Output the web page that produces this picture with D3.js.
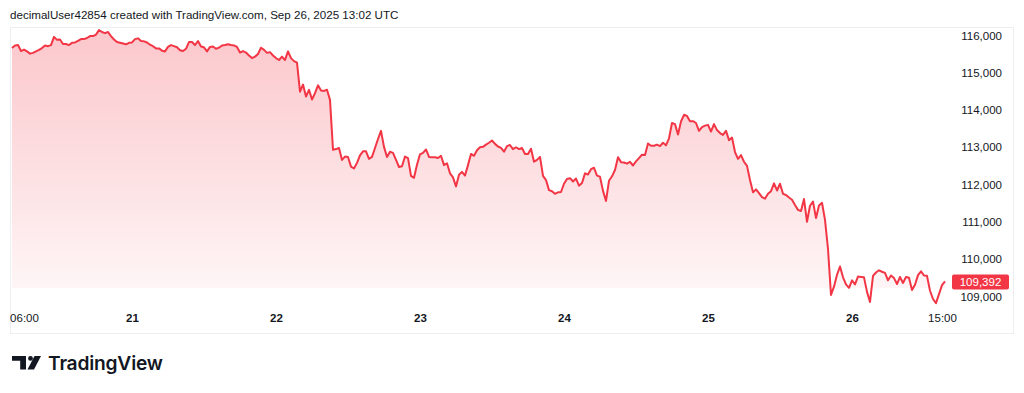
<!DOCTYPE html>
<html>
<head>
<meta charset="utf-8">
<script src="https://cdn.jsdelivr.net/npm/d3@7/dist/d3.min.js"></script>
<style>
  body { margin: 0; background: #fff; }
</style>
</head>
<body>
<div class="chart"></div>
<script>
// DATA
const titleText = "decimalUser42854 created with TradingView.com, Sep 26, 2025 13:02 UTC";
const startTime = Date.UTC(2025, 8, 20, 4, 0);   // first bar
const stepMinutes = 30;
const prices = [
  115650,115720,115730,115570,115610,115560,115500,115520,115560,115600,
  115650,115720,115700,115730,115950,115870,115880,115760,115760,115730,
  115790,115800,115840,115890,115890,115920,115970,115970,116010,116130,
  116080,116050,116080,115970,115880,115810,115790,115770,115750,115790,
  115800,115890,115910,115840,115830,115800,115740,115700,115640,115640,
  115580,115560,115680,115730,115700,115670,115590,115570,115630,115810,
  115810,115730,115840,115690,115670,115560,115680,115690,115630,115660,
  115720,115730,115750,115730,115720,115680,115530,115570,115530,115450,
  115380,115420,115490,115660,115600,115520,115540,115450,115380,115330,
  115420,115330,115560,115380,115300,115260,114480,114670,114350,114530,
  114270,114440,114650,114510,114500,114530,114260,112920,112940,112970,
  112650,112740,112730,112470,112420,112570,112770,112880,112880,112680,
  112730,112970,113210,113430,113000,112730,112870,112840,112650,112460,
  112480,112740,112700,112220,112170,112520,112800,112840,112930,112730,
  112720,112720,112700,112760,112510,112560,112290,112180,111940,112250,
  112330,112230,112510,112810,112760,112910,112990,113000,113060,113110,
  113170,113080,113010,112970,112870,113020,113050,112940,112990,112940,
  112970,112810,112810,112950,112600,112650,112730,112220,112110,111840,
  111810,111740,111780,111790,112010,112140,112160,112070,112150,111960,
  112030,112290,112260,112400,112440,112230,112200,111820,111550,112090,
  112210,112380,112720,112590,112580,112550,112600,112500,112610,112700,
  112790,112780,113090,113030,113030,113060,113020,113110,113040,113230,
  113640,113610,113330,113680,113860,113830,113690,113690,113640,113430,
  113530,113570,113590,113410,113610,113450,113370,113320,113430,113180,
  113250,112860,112680,112780,112600,112490,112110,111780,111860,111760,
  111650,111610,111740,111810,112020,111830,112010,111740,111710,111640,
  111580,111440,111310,111280,111600,110990,111420,111530,111090,111430,
  111500,111040,110260,109030,109250,109570,109790,109500,109310,109220,
  109420,109310,109520,109510,109500,109110,108840,109540,109630,109690,
  109650,109620,109420,109550,109480,109320,109510,109350,109510,109490,
  109160,109300,109560,109660,109550,109540,109140,108920,108810,109050,
  109290,109392
];
const yTickValues = [109000, 110000, 111000, 112000, 113000, 114000, 115000, 116000];
const xTickTimes = [
  Date.UTC(2025, 8, 20, 6), Date.UTC(2025, 8, 21), Date.UTC(2025, 8, 22),
  Date.UTC(2025, 8, 23), Date.UTC(2025, 8, 24), Date.UTC(2025, 8, 25),
  Date.UTC(2025, 8, 26), Date.UTC(2025, 8, 26, 15)
];
const xTickLabels = ["06:00", "21", "22", "23", "24", "25", "26", "15:00"];
const dayTick = [false, true, true, true, true, true, true, false];

// LAYOUT
const W = 1024, H = 393;
const red = "#F23645", ink = "#131722";
const font = "'Liberation Sans', Arial, sans-serif";

const data = prices.map((p, i) => ({ date: new Date(startTime + i * stepMinutes * 60000), price: p }));

const svg = d3.select(".chart").append("svg")
  .attr("width", W).attr("height", H)
  .style("font-family", font);

// frame
svg.append("rect")
  .attr("x", 10.5).attr("y", 27.5).attr("width", 1003).attr("height", 306)
  .attr("fill", "none").attr("stroke", "#eceef2");

svg.append("text")
  .attr("x", 10).attr("y", 19)
  .attr("font-size", 11.6).attr("fill", ink)
  .text(titleText);

const xScale = d3.scaleUtc()
  .domain([Date.UTC(2025, 8, 21), Date.UTC(2025, 8, 26)])
  .range([132, 852]);

const yScale = d3.scaleLinear()
  .domain([109000, 116000])
  .range([296, 35]);

const defs = svg.append("defs");
const grad = defs.append("linearGradient")
  .attr("id", "fillGrad")
  .attr("gradientUnits", "userSpaceOnUse")
  .attr("x1", 0).attr("y1", 29).attr("x2", 0).attr("y2", 288);
grad.append("stop").attr("offset", 0).attr("stop-color", red).attr("stop-opacity", 0.28);
grad.append("stop").attr("offset", 1).attr("stop-color", red).attr("stop-opacity", 0.05);

defs.append("clipPath").attr("id", "fillClip")
  .append("rect").attr("x", 0).attr("y", 0).attr("width", 948).attr("height", 288);

const area = d3.area()
  .x(d => xScale(d.date))
  .y0(320)
  .y1(d => yScale(d.price));

const line = d3.line()
  .x(d => xScale(d.date))
  .y(d => yScale(d.price));

svg.append("path")
  .datum(data)
  .attr("d", area)
  .attr("fill", "url(#fillGrad)")
  .attr("clip-path", "url(#fillClip)");

svg.append("path")
  .datum(data)
  .attr("d", line)
  .attr("fill", "none")
  .attr("stroke", red)
  .attr("stroke-width", 2)
  .attr("stroke-linejoin", "round");

// y axis (right)
const yAxis = d3.axisRight(yScale)
  .tickValues(yTickValues)
  .tickSize(0)
  .tickFormat(d3.format(","));

const yAxisGroup = svg.append("g")
  .attr("class", "axis y-axis")
  .attr("transform", "translate(1002,0)")
  .call(yAxis);
yAxisGroup.select(".domain").remove();
yAxisGroup.selectAll("text")
  .attr("x", 0).attr("dy", "0.35em")
  .attr("text-anchor", "end")
  .attr("font-family", font).attr("font-size", 11.5).attr("fill", ink);

// x axis
const xAxis = d3.axisBottom(xScale)
  .tickValues(xTickTimes.map(t => new Date(t)))
  .tickSize(0)
  .tickFormat((d, i) => xTickLabels[i]);

const xAxisGroup = svg.append("g")
  .attr("class", "axis x-axis")
  .attr("transform", "translate(0,314)")
  .call(xAxis);
xAxisGroup.select(".domain").remove();
xAxisGroup.selectAll("text")
  .attr("y", 0).attr("dy", "0.71em")
  .attr("font-family", font).attr("font-size", 11.5).attr("fill", ink)
  .attr("font-weight", (d, i) => dayTick[i] ? "bold" : "normal");

// last price label
const lastY = yScale(prices[prices.length - 1]);
svg.append("rect")
  .attr("x", 952).attr("y", lastY - 7).attr("width", 57).attr("height", 15)
  .attr("rx", 2).attr("fill", red);
svg.append("text")
  .attr("x", 980.5).attr("y", lastY).attr("dy", "0.36em")
  .attr("text-anchor", "middle")
  .attr("font-size", 11.5).attr("fill", "#fff")
  .text(d3.format(",")(prices[prices.length - 1]));

// TradingView logo
const logo = svg.append("g").attr("transform", "translate(12,356)").attr("fill", ink);
logo.append("path").attr("d", "M0,0H14V13.5H8.2V4.8H0Z");
logo.append("circle").attr("cx", 18.5).attr("cy", 2.4).attr("r", 2.4);
logo.append("path").attr("d", "M22.5,0H29L22,13.5H15.5Z");
svg.append("text")
  .attr("x", 48).attr("y", 370)
  .attr("font-family", "Inter, 'Open Sans', sans-serif")
  .attr("font-size", 19.2).attr("font-weight", 600).attr("fill", ink)
  .attr("letter-spacing", "-0.2")
  .text("TradingView");
</script>
</body>
</html>
